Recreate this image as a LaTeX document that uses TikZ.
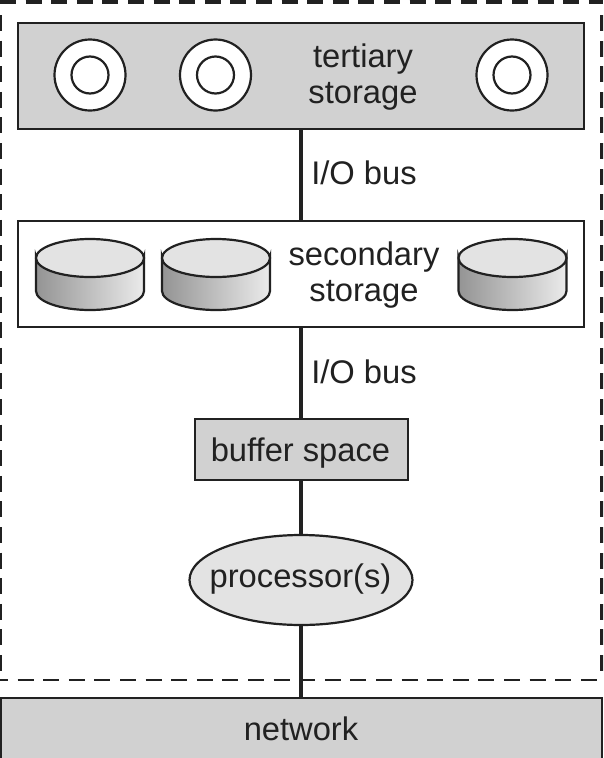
\documentclass[tikz,border=0pt]{standalone}
\usepackage{fontspec}
\setmainfont{Liberation Sans}
\usetikzlibrary{shapes.geometric}
\definecolor{ink}{gray}{0.13}
\definecolor{boxgray}{gray}{0.82}
\definecolor{lightgray2}{gray}{0.89}
\tikzset{
  base/.style={draw=ink,line width=2.2pt,inner sep=0pt,outer sep=0pt},
  panel/.style={base,rectangle,minimum width=566pt,minimum height=106pt},
  label/.style={text=ink,font=\fontsize{32.7}{36}\selectfont,align=center,inner sep=0pt},
  bus/.style={draw=ink,line width=4pt},
  frame/.style={draw=ink,line width=2.4pt,dash pattern=on 16pt off 9.6pt},
  frameheavy/.style={frame,line width=4.5pt},
  ring/.style={draw=ink,line width=2.2pt,fill=white},
  disctop/.style={draw=ink,line width=2.2pt,fill=lightgray2},
  discside/.style={draw=ink,line width=2.2pt,left color=black!42,right color=black!8},
}
\newcommand{\reel}[1]{%
  \filldraw[ring] (#1,75) circle (35.5);
  \filldraw[ring] (#1,75) circle (18.5);
}
\newcommand{\platter}[1]{%
  \path[discside] (#1,257) -- (#1,291) arc[start angle=180,end angle=0,x radius=54,y radius=19]
     -- (#1+108,257) arc[start angle=0,end angle=180,x radius=54,y radius=19] -- cycle;
  \path[disctop] (#1+54,258) ellipse[x radius=54,y radius=19];
}
\begin{document}
\begin{tikzpicture}[x=1pt,y=-1pt]
\clip (0,0) rectangle (603,758);
\fill[white] (0,0) rectangle (603,758);
% enclosing dashed frame
\draw[frameheavy] (0,2) -- (603,2);
\draw[frame] (0.5,15) -- (0.5,672);
\draw[frameheavy] (602,15) -- (602,672);
\draw[frame] (-8,680) -- (603,680);
% boxes
\node[panel,fill=boxgray] (tertiary) at (301,76) {};
\node[panel,fill=white] (secondary) at (301,274) {};
\node[base,rectangle,fill=boxgray,minimum width=213pt,minimum height=61pt] (buffer) at (301.5,449.5) {};
\node[base,ellipse,fill=lightgray2,minimum width=223pt,minimum height=90pt] (processor) at (301,580) {};
\node[base,rectangle,fill=boxgray,minimum width=601pt,minimum height=120pt] (network) at (301.5,758) {};
% connectors
\draw[bus] (tertiary.south) -- (secondary.north);
\draw[bus] (secondary.south) -- (buffer.north -| secondary.south);
\draw[bus] (buffer.south -| processor.north) -- (processor.north);
\draw[bus] (processor.south) -- (network.north -| processor.south);
% storage pictures
\reel{90}\reel{215.5}\reel{512}
\platter{36}\platter{162}\platter{458.5}
% labels
\node[label] (tertlabel) at (363,77) {tertiary\\storage};
\node[label] (seclabel) at (364,275.5) {secondary\\storage};
\node[label] (busa) at (364,173) {I/O bus};
\node[label] (busb) at (364,372) {I/O bus};
\node[label] (bufflabel) at (300.5,453) {buffer space};
\node[label] (proclabel) at (300.5,579) {processor(s)};
\node[label] (netlabel) at (301,729) {network};
\end{tikzpicture}
\end{document}
